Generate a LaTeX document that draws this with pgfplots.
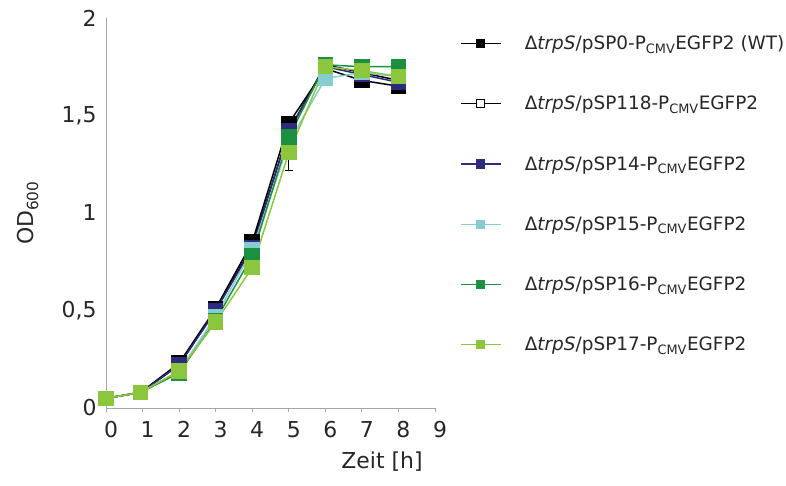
\documentclass[border=0pt]{standalone}
\usepackage{fontspec}
\setmainfont{DejaVu Sans}
\usepackage{pgfplots}
\pgfplotsset{compat=1.18}
\definecolor{cnavy}{HTML}{2E2A7E}
\definecolor{cltblue}{HTML}{86CDD0}
\definecolor{cdkgreen}{HTML}{1B9040}
\definecolor{cltgreen}{HTML}{8CC63F}
\begin{document}
\begin{tikzpicture}
\begin{axis}[
  scale only axis, width=329bp, height=390bp,
  xmin=0, xmax=9, ymin=0, ymax=2,
  axis x line*=bottom, axis y line*=left,
  axis line style={black!35, line width=0.8bp},
  xtick={0,...,9},
  ytick={0,0.5,1,1.5,2},
  yticklabels={0,{0,5},1,{1,5},2},
  tick align=outside,
  xtick style={black!35, line width=0.8bp},
  major tick length=4bp,
  ytick style={draw=none},
  /pgf/number format/assume math mode=true,
  ticklabel style={font=\fontsize{22}{24}\selectfont, text=black!85},
  xticklabel style={yshift=-6bp, xshift=5bp},
  yticklabel style={xshift=-2bp},
  xlabel={Zeit [h]},
  ylabel={OD\textsubscript{600}},
  label style={font=\fontsize{22}{24}\selectfont, text=black!85},
  xlabel style={at={(axis description cs:0.839,-0.138)}, anchor=center},
  ylabel style={at={(axis description cs:-0.237,0.5)}, anchor=center},
  clip=false,
  every axis plot/.append style={line width=1.5bp, mark=square*, mark size=7bp},
  legend style={draw=none, fill=none, at={(axis description cs:1.076,0.96)}, anchor=north west,
    font=\fontsize{18.5}{20}\selectfont, text=black!85, row sep=41bp, inner sep=0pt},
  legend cell align=left,
  legend image code/.code={\path[draw=none] (0bp,0bp) -- (62bp,0bp); \draw[line width=1.3bp, mark repeat=2, mark phase=2, mark size=4bp] plot coordinates {(0bp,0bp) (20bp,0bp) (40bp,0bp)};},
]
\addplot[color=black, error bars/.cd, y dir=minus, y explicit, error bar style={line width=1bp}, error mark options={rotate=90, mark size=4bp, line width=1bp}] coordinates {
(0,0.05) (0.95,0.08) (2,0.23) (3,0.51) (4,0.85) (5,1.46) +- (0,0.24) (6,1.74) (7,1.68) (8,1.65)};
\addlegendentry{Δ\textit{trpS}/pSP0-P\textsubscript{CMV}EGFP2 (WT)}
\addplot[color=black, mark options={fill=white}] coordinates {
(0,0.05) (0.95,0.08) (2,0.22) (3,0.50) (4,0.83) (5,1.42) (6,1.76) (7,1.72) (8,1.68)};
\addlegendentry{Δ\textit{trpS}/pSP118-P\textsubscript{CMV}EGFP2}
\addplot[color=cnavy] coordinates {
(0,0.05) (0.95,0.08) (2,0.22) (3,0.50) (4,0.82) (5,1.42) (6,1.75) (7,1.71) (8,1.67)};
\addlegendentry{Δ\textit{trpS}/pSP14-P\textsubscript{CMV}EGFP2}
\addplot[color=cltblue] coordinates {
(0,0.05) (0.95,0.08) (2,0.19) (3,0.47) (4,0.81) (5,1.36) (6,1.69) (7,1.72) (8,1.70)};
\addlegendentry{Δ\textit{trpS}/pSP15-P\textsubscript{CMV}EGFP2}
\addplot[color=cdkgreen] coordinates {
(0,0.05) (0.95,0.08) (2,0.18) (3,0.45) (4,0.78) (5,1.39) (6,1.76) (7,1.75) (8,1.75)};
\addlegendentry{Δ\textit{trpS}/pSP16-P\textsubscript{CMV}EGFP2}
\addplot[color=cltgreen] coordinates {
(0,0.05) (0.95,0.08) (2,0.19) (3,0.44) (4,0.72) (5,1.31) (6,1.75) (7,1.73) (8,1.70)};
\addlegendentry{Δ\textit{trpS}/pSP17-P\textsubscript{CMV}EGFP2}
\end{axis}
\pgfresetboundingbox
\path (-106bp,-78bp) rectangle (680bp,408bp);
\end{tikzpicture}
\end{document}
